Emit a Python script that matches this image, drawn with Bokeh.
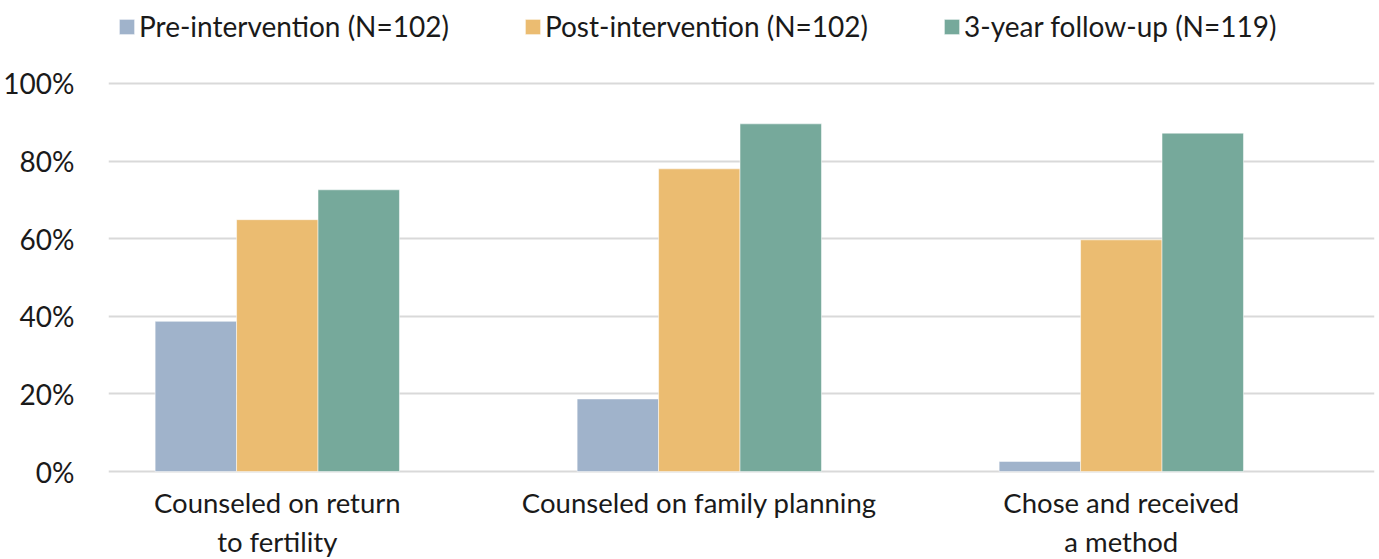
from bokeh.plotting import figure
from bokeh.models import Range1d, FixedTicker, NumeralTickFormatter, Legend, LegendItem, ColumnDataSource
from bokeh.embed import file_html
from bokeh.resources import INLINE

categories = ["Counseled on return\nto fertility", "Counseled on family planning", "Chose and received\na method"]
series = ["Pre-intervention (N=102)", "Post-intervention (N=102)", "3-year follow-up (N=119)"]
pre = [0.387, 0.187, 0.026]
post = [0.649, 0.780, 0.597]
follow = [0.726, 0.896, 0.872]
y_ticks = [0, 0.2, 0.4, 0.6, 0.8, 1.0]

colors = ["#A0B3CB", "#EBBC71", "#76A99B"]
FONT = "Lato"
bar_w = 0.193
offsets = [-bar_w, 0.0, bar_w]

p = figure(frame_width=1266, frame_height=473, output_backend="svg", toolbar_location=None,
           x_range=Range1d(-0.4, 2.6), y_range=Range1d(-0.00515, 1.2139),
           min_border_left=108, min_border_right=2, min_border_top=0, min_border_bottom=86)
p.outline_line_color = None
p.background_fill_color = "white"
p.border_fill_color = "white"

idx = list(range(len(categories)))
items = []
for vals, off, col, name in zip([pre, post, follow], offsets, colors, series):
    src = ColumnDataSource(dict(x=[i + off for i in idx], top=vals))
    r = p.vbar(x="x", top="top", bottom=0, width=bar_w, source=src,
               fill_color=col, line_color="white", line_width=1, line_alpha=0.5)
    items.append(LegendItem(label=name, renderers=[r]))

legend = Legend(items=items, orientation="horizontal", location="top_left",
                label_text_font=FONT, label_text_font_size="28px", label_text_color="#1a1a1a",
                glyph_width=19, glyph_height=19, label_standoff=3, spacing=74,
                border_line_color=None, background_fill_alpha=0, padding=0, margin=9)
p.add_layout(legend, "center")

p.xaxis.ticker = FixedTicker(ticks=idx)
p.xaxis.major_label_overrides = {i: c for i, c in zip(idx, categories)}
p.xaxis.major_label_text_font = FONT
p.xaxis.major_label_text_font_size = "27.5px"
p.xaxis.major_label_text_color = "#1a1a1a"
p.xaxis.major_label_standoff = 6
p.xaxis.axis_line_color = None
p.xaxis.major_tick_line_color = None
p.xaxis.minor_tick_line_color = None

p.yaxis.ticker = FixedTicker(ticks=y_ticks)
p.yaxis.formatter = NumeralTickFormatter(format="0%")
p.yaxis.major_label_text_font = FONT
p.yaxis.major_label_text_font_size = "28px"
p.yaxis.major_label_text_color = "#1a1a1a"
p.yaxis.major_label_standoff = 28
p.yaxis.axis_line_color = None
p.yaxis.major_tick_line_color = None
p.yaxis.minor_tick_line_color = None

p.xgrid.grid_line_color = None
p.ygrid.ticker = FixedTicker(ticks=y_ticks)
p.ygrid.grid_line_color = "#D9D9D9"
p.ygrid.grid_line_width = 2

open("out.html", "w").write(file_html(p, INLINE))
